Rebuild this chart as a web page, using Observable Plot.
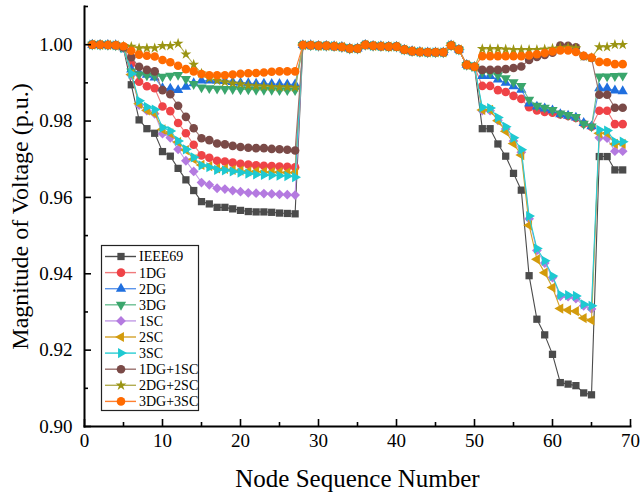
<!DOCTYPE html>
<html><head><meta charset="utf-8">
<script src="https://cdn.jsdelivr.net/npm/d3@7"></script>
<script src="https://cdn.jsdelivr.net/npm/@observablehq/plot@0.6"></script>
<style>
html,body{margin:0;padding:0;background:#fff;}
#chart{position:relative;width:641px;height:493px;}
</style></head><body><div id="chart"></div>
<script>
const nodes = [1,2,3,4,5,6,7,8,9,10,11,12,13,14,15,16,17,18,19,20,21,22,23,24,25,26,27,28,29,30,31,32,33,34,35,36,37,38,39,40,41,42,43,44,45,46,47,48,49,50,51,52,53,54,55,56,57,58,59,60,61,62,63,64,65,66,67,68,69];

const seriesNames = ["IEEE69","1DG","2DG","3DG","1SC","2SC","3SC","1DG+1SC","2DG+2SC","3DG+3SC"];

const ieee69 = [1.0000,0.99997,0.99993,0.99984,0.9990,
 0.9895,0.9803,0.9780,0.9768,0.9720,0.9708,0.9676,0.9646,0.9618,0.9589,0.9583,0.9574,0.9574,0.9570,0.9566,0.9563,0.9562,0.9562,0.9561,0.9559,0.9558,0.9557,
 0.9999,0.99985,0.9997,0.9997,0.9996,0.9994,0.9990,0.9990,0.99995,0.9997,0.9996,0.9995,0.9995,0.9987,0.9983,0.9981,0.9980,0.9980,0.9980,0.9998,0.9987,0.9947,0.9942,
 0.9780,0.9780,0.9740,0.9708,0.9663,0.9619,0.9395,0.9281,0.9240,0.9189,0.9115,0.9111,0.9107,0.9088,0.9083,0.9707,0.9707,0.9672,0.9672];

const dg1 = [1.0000,0.99997,0.99993,0.99986,0.9992,
 0.9950,0.9903,0.9891,0.9886,0.9838,0.9826,0.9795,0.9768,0.9738,0.9710,0.9704,0.9696,0.9694,0.9691,0.9688,0.9686,0.9684,0.9683,0.9682,0.9681,0.9680,0.9679,
 0.9999,0.99985,0.9997,0.9997,0.9996,0.9994,0.9990,0.9990,0.99995,0.9997,0.9996,0.9995,0.9995,0.9987,0.9983,0.9981,0.9980,0.9980,0.9980,0.9998,0.9987,0.9947,0.9942,
 0.9892,0.9892,0.9881,0.9876,0.9866,0.9858,0.9836,0.9828,0.9824,0.9822,0.9817,0.9813,0.9808,0.9793,0.9785,0.9827,0.9827,0.9792,0.9792];

const dg2 = [1.0000,0.99997,0.99993,0.99986,0.9993,
 0.9935,0.9927,0.9921,0.9914,0.9886,0.9885,0.9881,0.9890,0.9899,0.9906,0.9906,0.9906,0.9905,0.9902,0.9900,0.9899,0.9898,0.9898,0.9897,0.9897,0.9896,0.9896,
 0.9999,0.99985,0.9997,0.9997,0.9996,0.9994,0.9990,0.9990,0.99995,0.9997,0.9996,0.9995,0.9995,0.9987,0.9983,0.9981,0.9980,0.9980,0.9980,0.9998,0.9987,0.9947,0.9942,
 0.9918,0.9918,0.9909,0.9900,0.9891,0.9882,0.9846,0.9838,0.9833,0.9828,0.9818,0.9814,0.9809,0.9795,0.9786,0.9886,0.9886,0.9880,0.9878];

const dg3 = [1.0000,0.99997,0.99993,0.99986,0.9994,
 0.9930,0.9922,0.9920,0.9918,0.9916,0.9919,0.9921,0.9910,0.9897,0.9888,0.9886,0.9885,0.9884,0.9884,0.9883,0.9883,0.9882,0.9882,0.9882,0.9881,0.9881,0.9881,
 0.9999,0.99985,0.9997,0.9997,0.9996,0.9994,0.9990,0.9990,0.99995,0.9997,0.9996,0.9995,0.9995,0.9987,0.9983,0.9981,0.9980,0.9980,0.9980,0.9998,0.9987,0.9947,0.9942,
 0.9928,0.9926,0.9920,0.9912,0.9902,0.9892,0.9856,0.9840,0.9835,0.9829,0.9820,0.9816,0.9811,0.9793,0.9786,0.9917,0.9917,0.9918,0.9919];

const sc1 = [1.0000,0.99997,0.99993,0.99984,0.9991,
 0.9920,0.9842,0.9827,0.9819,0.9767,0.9756,0.9726,0.9696,0.9668,0.9639,0.9633,0.9624,0.9622,0.9618,0.9615,0.9612,0.9611,0.9610,0.9609,0.9608,0.9607,0.9606,
 0.9999,0.99985,0.9997,0.9997,0.9996,0.9994,0.9990,0.9990,0.99995,0.9997,0.9996,0.9995,0.9995,0.9987,0.9983,0.9981,0.9980,0.9980,0.9980,0.9998,0.9987,0.9947,0.9942,
 0.9827,0.9827,0.9802,0.9779,0.9748,0.9718,0.9544,0.9461,0.9428,0.9390,0.9341,0.9340,0.9335,0.9316,0.9308,0.9756,0.9755,0.9721,0.9721];

const sc2 = [1.0000,0.99997,0.99993,0.99984,0.9991,
 0.9922,0.9845,0.9828,0.9820,0.9778,0.9768,0.9745,0.9724,0.9700,0.9685,0.9682,0.9676,0.9675,0.9672,0.9670,0.9668,0.9668,0.9667,0.9666,0.9666,0.9665,0.9665,
 0.9999,0.99985,0.9997,0.9997,0.9996,0.9994,0.9990,0.9990,0.99995,0.9997,0.9996,0.9995,0.9995,0.9987,0.9983,0.9981,0.9980,0.9980,0.9980,0.9998,0.9987,0.9947,0.9942,
 0.9829,0.9829,0.9801,0.9773,0.9741,0.9711,0.9527,0.9438,0.9403,0.9364,0.9309,0.9305,0.9302,0.9284,0.9278,0.9768,0.9768,0.9740,0.9740];

const sc3 = [1.0000,0.99997,0.99993,0.99984,0.9991,
 0.9924,0.9853,0.9837,0.9830,0.9783,0.9774,0.9748,0.9726,0.9705,0.9684,0.9679,0.9672,0.9671,0.9668,0.9665,0.9662,0.9660,0.9659,0.9658,0.9657,0.9656,0.9653,
 0.9999,0.99985,0.9997,0.9997,0.9996,0.9994,0.9990,0.9990,0.99995,0.9997,0.9996,0.9995,0.9995,0.9987,0.9983,0.9981,0.9980,0.9980,0.9980,0.9998,0.9987,0.9947,0.9942,
 0.9836,0.9834,0.9809,0.9785,0.9756,0.9725,0.9551,0.9466,0.9434,0.9394,0.9345,0.9344,0.9342,0.9320,0.9316,0.9777,0.9775,0.9746,0.9746];

const dg1sc1 = [1.0000,0.99997,0.99993,0.99986,0.9993,
 0.9967,0.9942,0.9934,0.9930,0.9881,0.9870,0.9840,0.9811,0.9781,0.9755,0.9750,0.9741,0.9739,0.9735,0.9732,0.9730,0.9729,0.9729,0.9727,0.9726,0.9725,0.9723,
 0.9999,0.99985,0.9997,0.9997,0.9996,0.9994,0.9990,0.9990,0.99995,0.9997,0.9996,0.9995,0.9995,0.9987,0.9983,0.9981,0.9980,0.9980,0.9980,0.9998,0.9987,0.9947,0.9942,
 0.9934,0.9934,0.9934,0.9936,0.9939,0.9943,0.9960,0.9968,0.9973,0.9979,0.9998,0.9997,0.9993,0.9970,0.9965,0.9869,0.9869,0.9835,0.9835];

const dg2sc2 = [1.0000,0.99997,0.99993,0.99986,0.9996,
 0.9995,0.9991,0.9991,0.9991,0.9997,0.9997,1.0003,0.9975,0.9948,0.9925,0.9912,0.9906,0.9902,0.9899,0.9897,0.9893,0.9892,0.9891,0.9890,0.9889,0.9889,0.9888,
 0.9999,0.99985,0.9997,0.9997,0.9996,0.9994,0.9990,0.9990,0.99995,0.9997,0.9996,0.9995,0.9995,0.9987,0.9983,0.9981,0.9980,0.9980,0.9980,0.9998,0.9987,0.9947,0.9942,
 0.9989,0.9989,0.9989,0.9988,0.9987,0.9987,0.9987,0.9987,0.9988,0.9990,0.9992,0.9993,0.9991,0.9969,0.9966,0.9994,0.9994,1.0000,1.0000];

const dg3sc3 = [1.0000,0.99997,0.99993,0.99986,0.9996,
 0.9984,0.9974,0.9971,0.9969,0.9960,0.9954,0.9945,0.9936,0.9930,0.9923,0.9920,0.9920,0.9920,0.9922,0.9924,0.9925,0.9926,0.9927,0.9929,0.9930,0.9930,0.9930,
 0.9999,0.99985,0.9997,0.9997,0.9996,0.9994,0.9990,0.9990,0.99995,0.9997,0.9996,0.9995,0.9995,0.9987,0.9983,0.9981,0.9980,0.9980,0.9980,0.9998,0.9987,0.9947,0.9942,
 0.9970,0.9970,0.9970,0.9970,0.9970,0.9970,0.9972,0.9975,0.9978,0.9982,0.9985,0.9985,0.9981,0.9971,0.9966,0.9955,0.9954,0.9949,0.9949];

const seriesValues = [ieee69, dg1, dg2, dg3, sc1, sc2, sc3, dg1sc1, dg2sc2, dg3sc3];

const markerColors = ["#4b4b4b","#ef4347","#1f6fdf","#3aa66c","#b47ae0","#d39b0c","#1ec9d1","#7a4a47","#9a9412","#ff6a00"];
const lineColors   = ["#4b4b4b","#f07a7c","#5d95ea","#6cbf92","#c29be6","#d4a32c","#2acdd4","#9a716e","#b2ad52","#ff8030"];
const markerSymbols = ["square","circle","triangle","triangle","diamond2","triangle","triangle","circle","star","circle"];
const markerRotate  = [0,0,0,180,0,-90,90,0,0,0];
const markerRadius  = [4.1,4.3,3.8,3.8,4.4,3.8,3.8,4.3,3.4,4.3];

const xTicks = [0,10,20,30,40,50,60,70];
const xMinorTicks = [5,15,25,35,45,55,65];
const yTicks = [0.90,0.92,0.94,0.96,0.98,1.00];
const yMinorTicks = [0.91,0.93,0.95,0.97,0.99,1.01];

seriesValues.forEach((v,i)=>{ if (v.length !== nodes.length) throw new Error(seriesNames[i]+" has "+v.length); });

const FONT = "'Liberation Serif','Times New Roman',serif";
const marks = [];
seriesValues.forEach((vals, i) => {
  const rows = nodes.map((n, j) => ({node: n, v: vals[j]}));
  marks.push(Plot.line(rows, {x: "node", y: "v", stroke: lineColors[i], strokeWidth: 1.1}));
  marks.push(Plot.dot(rows, {x: "node", y: "v", symbol: markerSymbols[i], rotate: markerRotate[i], fill: markerColors[i], r: markerRadius[i]}));
});

const chart = Plot.plot({
  width: 641, height: 493,
  marginLeft: 84, marginRight: 11, marginTop: 6, marginBottom: 67,
  style: {fontFamily: FONT, fontSize: "19px", color: "#000", background: "#fff"},
  x: {domain: [0, 70]},
  y: {domain: [0.90, 1.01]},
  marks: [
    ...marks,
    Plot.axisX(xTicks, {tickSize: -7, tickPadding: 14, label: null, fontSize: 19, strokeWidth: 1.6}),
    Plot.axisX(xMinorTicks, {tickSize: -4, text: null, label: null, strokeWidth: 1.6}),
    Plot.axisY(yTicks, {tickSize: -7, tickPadding: 19, tickFormat: ".2f", label: null, fontSize: 19, strokeWidth: 1.6}),
    Plot.axisY(yMinorTicks, {tickSize: -4, text: null, label: null, strokeWidth: 1.6}),
    Plot.axisX([], {label: "Node Sequence Number", labelAnchor: "center", labelArrow: "none", labelOffset: 60, fontSize: 25}),
    Plot.axisY([], {label: "Magnitude of Voltage (p.u.)", labelAnchor: "center", labelArrow: "none", labelOffset: 74, fontSize: 24}),
    Plot.frame({anchor: "left", stroke: "#000", strokeWidth: 2}),
    Plot.frame({anchor: "bottom", stroke: "#000", strokeWidth: 2})
  ]
});

document.getElementById("chart").appendChild(chart);

// Legend
const d3Sym = {square: d3.symbolSquare, circle: d3.symbolCircle, triangle: d3.symbolTriangle, diamond2: d3.symbolDiamond2, star: d3.symbolStar};
const svg = d3.select(chart);
const lg = svg.append("g").attr("font-family", FONT).attr("font-size", 14).attr("text-anchor", "start");
lg.append("rect").attr("x", 101.5).attr("y", 245.5).attr("width", 97).attr("height", 165)
  .attr("fill", "#fff").attr("stroke", "#222").attr("stroke-width", 1.2);
seriesNames.forEach((name, i) => {
  const cy = 256.5 + i * 16.1;
  lg.append("line").attr("x1", 105).attr("x2", 136).attr("y1", cy).attr("y2", cy)
    .attr("stroke", lineColors[i]).attr("stroke-width", 1.4);
  const r = markerRadius[i];
  lg.append("path").attr("d", d3.symbol(d3Sym[markerSymbols[i]], Math.PI * r * r)())
    .attr("transform", `translate(121,${cy}) rotate(${markerRotate[i]})`).attr("fill", markerColors[i]);
  lg.append("text").attr("x", 139).attr("y", cy).attr("dy", "0.35em").attr("fill", "#000")
    .attr("text-anchor", "start").text(name);
});
</script></body></html>
